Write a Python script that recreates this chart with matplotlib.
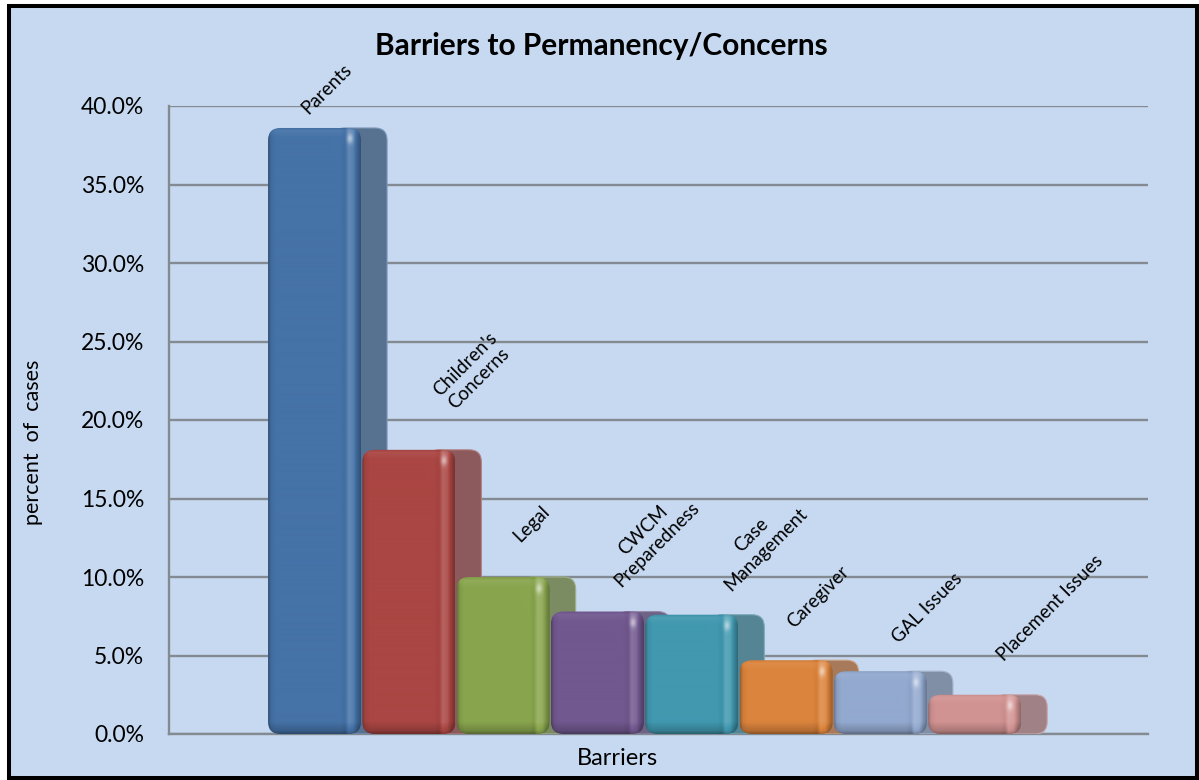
import numpy as np
import matplotlib.pyplot as plt
from matplotlib.patches import FancyBboxPatch, Polygon, Rectangle
from matplotlib.colors import to_rgb

plt.rcParams['font.family'] = ['Lato', 'DejaVu Sans']

barriers = ["Parents", "Children's\nConcerns", "Legal", "CWCM\nPreparedness",
            "Case\nManagement", "Caregiver", "GAL Issues", "Placement Issues"]
percent_cases = [38.6, 18.1, 10.0, 7.8, 7.6, 4.7, 4.0, 2.5]
bar_colors = ["#4572a7", "#aa4643", "#89a54e", "#71588f",
              "#4198af", "#db843d", "#93a9cf", "#d19392"]
y_ticks = [0, 5, 10, 15, 20, 25, 30, 35, 40]

# where each rotated label sits, relative to the bar centre (bar units) and top (percent)
label_dx = [0.12, 0.66, 0.29, 0.55, 0.70, 0.33, 0.49, 0.79]
label_dy = [2.5, 5.0, 3.4, 4.75, 4.6, 4.0, 4.0, 5.5]

W, H = 1199, 780
BG = '#c6d9f1'
GRID = '#848a92'

fig = plt.figure(figsize=(W / 100, H / 100), dpi=100, facecolor='white')

# ---- chart frame, drawn in pixel space ----
frame = fig.add_axes([0, 0, 1, 1], zorder=0)
frame.set_xlim(0, W)
frame.set_ylim(H, 0)
frame.axis('off')
frame.add_patch(Rectangle((9, 6), W - 11, H - 8, facecolor=BG,
                          edgecolor='black', lw=2.9))


def bevel(poly, c0, c1, horizontal):
    patch = Polygon(poly, closed=True, facecolor='none', edgecolor='none')
    frame.add_patch(patch)
    xs = [p[0] for p in poly]
    ys = [p[1] for p in poly]
    a, b = np.array(to_rgb(c0)), np.array(to_rgb(c1))
    img = a + (b - a) * np.linspace(0, 1, 64)[:, None]
    img = img[None, :, :] if horizontal else img[:, None, :]
    frame.imshow(img, extent=(min(xs), max(xs), max(ys), min(ys)),
                 aspect='auto', clip_path=patch, interpolation='bilinear')


bevel([(11, 8), (1195, 8), (1183, 21), (23, 21)], '#ffffff', BG, False)
bevel([(11, 8), (23, 21), (23, 763), (11, 775)], '#dbe6f5', '#b8cae2', True)
bevel([(1195, 8), (1183, 21), (1183, 763), (1195, 775)], '#9fb1c9', '#7f92ab', True)
bevel([(11, 775), (23, 766), (1183, 766), (1195, 775)], '#b3c4dc', '#8596ae', False)
frame.set_xlim(0, W)
frame.set_ylim(H, 0)

# ---- plot area ----
xmin, xmax = -1.05, 9.33
ax = fig.add_axes([169 / W, 46 / H, 979 / W, 628 / H], zorder=1)
ax.patch.set_alpha(0)
ax.set_xlim(xmin, xmax)
ax.set_ylim(0, 40)

face_w = 0.986
depth = 0.276
px_x = 979 / (xmax - xmin)
px_y = 628 / 40
# rounding is given in x units; FancyBboxPatch multiplies it by this in y
m_aspect = px_x / px_y
box = 'round,pad=0,rounding_size=0.13'


def shade(rgb, h_px):
    u = np.linspace(0, 1, 186)
    hx = np.interp(u, [0, 0.03, 0.08, 0.78, 0.83, 0.87, 0.92, 0.96, 1.0],
                   [-0.28, -0.06, 0, 0, -0.05, 0.16, 0.10, -0.12, -0.3])
    ny = max(int(h_px), 4)
    d = np.linspace(0, h_px, ny)
    top = h_px - d
    vy = np.interp(d, [0, 3, 12], [-0.35, -0.18, 0]) \
        + np.interp(top, [0, 3, 10], [-0.05, 0.06, 0])
    glint = 0.45 * np.exp(-((u - 0.885) / 0.035) ** 2)[None, :] \
        * np.exp(-((top - 11) / 5) ** 2)[:, None]
    s = np.clip(hx[None, :] + vy[:, None] + glint, -0.6, 0.7)[..., None]
    lit = rgb + (1 - rgb) * s
    dark = rgb * (1 + s)
    return np.clip(np.where(s > 0, lit, dark), 0, 1)


grey = np.array([0.47, 0.49, 0.53])
for i, (v, c) in enumerate(zip(percent_cases, bar_colors)):
    rgb = np.array(to_rgb(c))
    side_rgb = 0.95 * (0.55 * rgb + 0.45 * grey)
    side = FancyBboxPatch((i + face_w - 0.3, 0), 0.3 + depth, v, boxstyle=box,
                          mutation_aspect=m_aspect, fc=side_rgb,
                          ec=np.clip(side_rgb + 0.15, 0, 1), lw=0.8,
                          zorder=3 + 2 * i)
    ax.add_patch(side)
    face = FancyBboxPatch((i, 0), face_w, v, boxstyle=box, mutation_aspect=m_aspect,
                          fc='none', ec='none', zorder=4 + 2 * i)
    ax.add_patch(face)
    ax.imshow(shade(rgb, v * px_y), extent=(i, i + face_w, 0, v), origin='lower',
              aspect='auto', clip_path=face, interpolation='bilinear',
              zorder=4 + 2 * i)
    ax.text(i + 0.5 + label_dx[i], v + label_dy[i], barriers[i], rotation=45,
            rotation_mode='anchor', ha='center', va='center',
            multialignment='center', fontsize=13.5, zorder=40)

ax.set_xlim(xmin, xmax)
ax.set_ylim(0, 40)

ax.set_axisbelow(True)
ax.yaxis.grid(True, color=GRID, lw=1.7)
ax.set_xticks([])
ax.set_yticks(y_ticks)
ax.set_yticklabels([f'{t:.1f}%' for t in y_ticks])
ax.tick_params(axis='y', length=0, pad=18, labelsize=16.5)
for s in ['top', 'right']:
    ax.spines[s].set_visible(False)
for s in ['left', 'bottom']:
    ax.spines[s].set_color(GRID)
    ax.spines[s].set_linewidth(1.7)

fig.text(601 / W, 1 - 55 / H, 'Barriers to Permanency/Concerns', ha='center',
         va='baseline', fontsize=21.5, fontweight='bold')
fig.text(617 / W, 1 - 765 / H, 'Barriers', ha='center', va='baseline', fontsize=17)
fig.text(33 / W, 1 - 442 / H, 'percent  of  cases', rotation=90, ha='center',
         va='center', fontsize=15.5)

fig.savefig('out.png', dpi=100, facecolor='white')
